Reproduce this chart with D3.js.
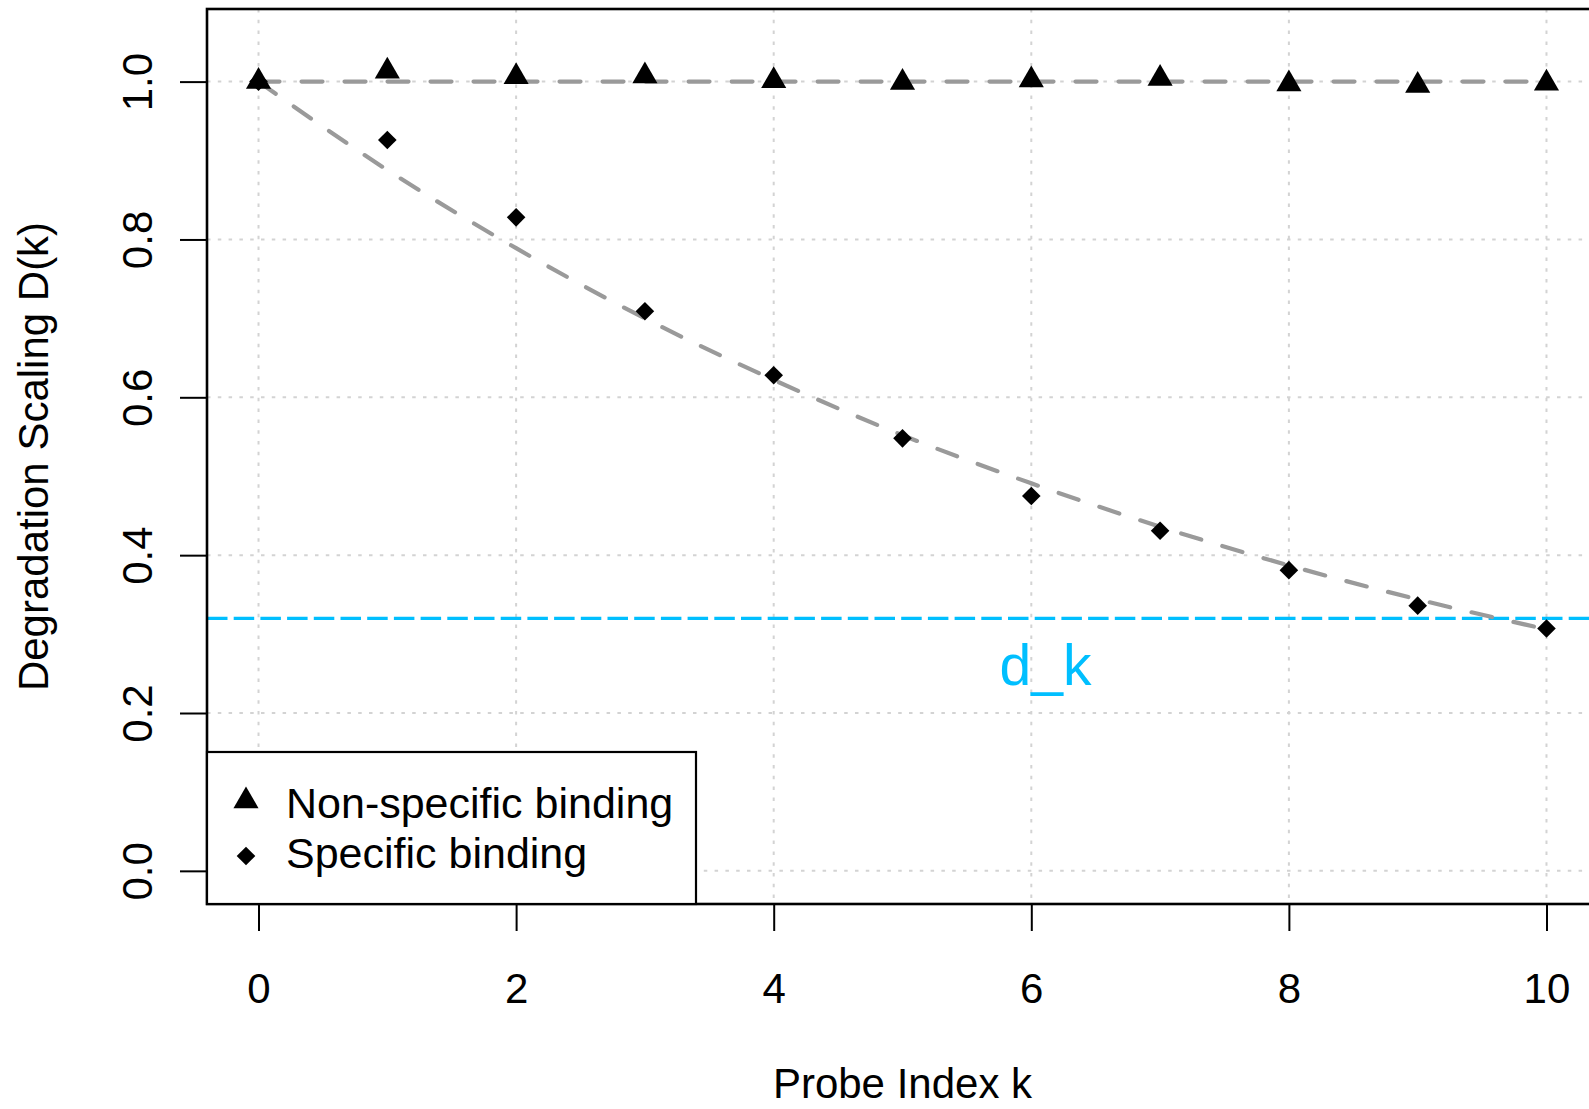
<!DOCTYPE html>
<html>
<head>
<meta charset="utf-8">
<script src="https://cdn.jsdelivr.net/npm/d3@7"></script>
<style>
  html, body { margin: 0; padding: 0; background: #ffffff; }
  svg { display: block; }
  text { font-family: "Liberation Sans", Arial, Helvetica, sans-serif; fill: #000; }
</style>
</head>
<body>
<svg id="chart" width="1589" height="1109"></svg>
<script>
// ---------------- data ----------------
const probeIndex = [0, 1, 2, 3, 4, 5, 6, 7, 8, 9, 10];
const nonSpecific = [1.000, 1.013, 1.006, 1.007, 1.001, 0.999, 1.002, 1.004, 0.997, 0.995, 0.998];
const specific    = [1.000, 0.926, 0.828, 0.709, 0.628, 0.548, 0.475, 0.431, 0.381, 0.336, 0.307];
const nonSpecificFit = [1, 1, 1, 1, 1, 1, 1, 1, 1, 1, 1];
const specificFit    = [1.000, 0.888, 0.789, 0.700, 0.622, 0.552, 0.491, 0.436, 0.387, 0.344, 0.306];
const thresholdValue = 0.32;
const thresholdLabel = "d_k";
const thresholdLabelPos = [6.11, 0.262];
const xTicks = [0, 2, 4, 6, 8, 10];
const yTicks = [0.0, 0.2, 0.4, 0.6, 0.8, 1.0];
const xDomain = [-0.4, 10.4];
const yDomain = [-0.042, 1.092];
const seriesNames = ["Non-specific binding", "Specific binding"];
const xTitle = "Probe Index k";
const yTitle = "Degradation Scaling D(k)";

(function () {
// ---------------- layout ----------------
const svg = d3.select("#chart");
const pL = 207, pR = 1598, pT = 9, pB = 904;
const x = d3.scaleLinear().domain(xDomain).range([pL, pR]);
const y = d3.scaleLinear().domain(yDomain).range([pB, pT]);

const FS = 42;

svg.append("defs").append("clipPath").attr("id", "plotclip")
  .append("rect").attr("x", pL).attr("y", pT).attr("width", pR - pL).attr("height", pB - pT);

const plot = svg.append("g").attr("clip-path", "url(#plotclip)");

// grid
plot.append("g").selectAll("line").data(xTicks).join("line")
  .attr("x1", d => x(d)).attr("x2", d => x(d))
  .attr("y1", pT).attr("y2", pB)
  .attr("stroke", "#d3d3d3").attr("stroke-width", 2).attr("stroke-dasharray", "3.5,7.3");
plot.append("g").selectAll("line").data(yTicks).join("line")
  .attr("x1", pL).attr("x2", pR)
  .attr("y1", d => y(d)).attr("y2", d => y(d))
  .attr("stroke", "#d3d3d3").attr("stroke-width", 2).attr("stroke-dasharray", "3.5,7.3");

// threshold line
plot.append("line")
  .attr("x1", pL).attr("x2", pR)
  .attr("y1", y(thresholdValue)).attr("y2", y(thresholdValue))
  .attr("stroke", "#00BFFF").attr("stroke-width", 3.2).attr("stroke-dasharray", "20.5,6.2");

// fitted lines
const lineGen = d3.line().x((d, i) => x(probeIndex[i])).y(d => y(d)).curve(d3.curveMonotoneX);
[nonSpecificFit, specificFit].forEach(fit => {
  plot.append("path").datum(fit).attr("d", lineGen)
    .attr("fill", "none").attr("stroke", "#9a9a9a").attr("stroke-width", 4.2)
    .attr("stroke-linecap", "round")
    .attr("stroke-dasharray", "21,22");
});

// symbols
const triR = 14.5;
function triPath(cx, cy) {
  const hw = triR * 0.866;
  return `M${cx},${cy - triR}L${cx + hw},${cy + triR / 2}L${cx - hw},${cy + triR / 2}Z`;
}
const diaR = 9.3;
function diaPath(cx, cy) {
  return `M${cx},${cy - diaR}L${cx + diaR},${cy}L${cx},${cy + diaR}L${cx - diaR},${cy}Z`;
}

plot.append("g").selectAll("path").data(specific).join("path")
  .attr("d", (d, i) => diaPath(x(probeIndex[i]), y(d))).attr("fill", "#000");
plot.append("g").selectAll("path").data(nonSpecific).join("path")
  .attr("d", (d, i) => triPath(x(probeIndex[i]), y(d))).attr("fill", "#000");

// threshold label
svg.append("text")
  .attr("x", x(thresholdLabelPos[0])).attr("y", y(thresholdLabelPos[1]) + 21)
  .attr("text-anchor", "middle").attr("font-size", 57)
  .style("fill", "#00BFFF").text(thresholdLabel);

// axes
const xAxis = svg.append("g").attr("transform", `translate(0,${pB})`)
  .call(d3.axisBottom(x).tickValues(xTicks).tickFormat(d3.format("d")).tickSize(27).tickPadding(42));
xAxis.select(".domain").remove();
xAxis.selectAll(".tick line").attr("stroke", "#000").attr("stroke-width", 2);
xAxis.selectAll(".tick text").attr("font-size", FS).attr("font-family", null);

const yAxis = svg.append("g").attr("transform", `translate(${pL},0)`)
  .call(d3.axisLeft(y).tickValues(yTicks).tickFormat(d3.format(".1f")).tickSize(27));
yAxis.select(".domain").remove();
yAxis.selectAll(".tick line").attr("stroke", "#000").attr("stroke-width", 2);
yAxis.selectAll(".tick text")
  .attr("font-size", FS).attr("font-family", null)
  .attr("x", 0).attr("y", -55).attr("dy", null)
  .attr("text-anchor", "middle")
  .attr("transform", "rotate(-90)");

// box (right edge lies beyond the window)
svg.append("rect")
  .attr("x", pL).attr("y", pT).attr("width", pR - pL).attr("height", pB - pT)
  .attr("fill", "none").attr("stroke", "#000").attr("stroke-width", 2.6);

// titles
svg.append("text").attr("x", (pL + pR) / 2).attr("y", 1098)
  .attr("text-anchor", "middle").attr("font-size", FS).text(xTitle);
svg.append("text")
  .attr("transform", `translate(48,${(pT + pB) / 2}) rotate(-90)`)
  .attr("text-anchor", "middle").attr("font-size", FS).text(yTitle);

// legend (bottom-left)
const lgW = 489, lgH = 152;
const lg = svg.append("g").attr("transform", `translate(${pL},${pB - lgH})`);
lg.append("rect").attr("width", lgW).attr("height", lgH)
  .attr("fill", "#fff").attr("stroke", "#000").attr("stroke-width", 2.2);
lg.append("path").attr("d", triPath(39, 49)).attr("fill", "#000");
lg.append("path").attr("d", diaPath(39, 104)).attr("fill", "#000");
lg.selectAll("text.lbl").data(seriesNames).join("text")
  .attr("class", "lbl")
  .attr("x", 79).attr("y", (d, i) => 66 + i * 50)
  .attr("font-size", 43).text(d => d);
})();
</script>
</body>
</html>
